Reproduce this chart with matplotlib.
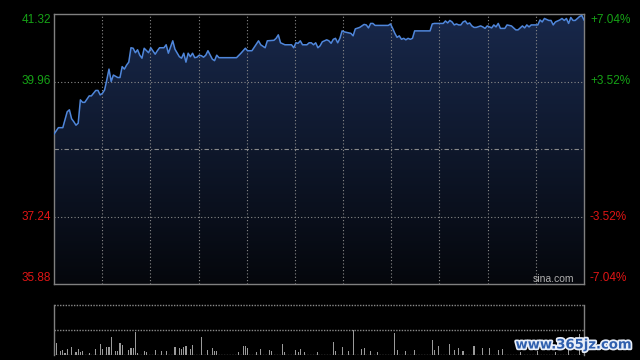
import matplotlib
matplotlib.use("Agg")

import numpy as np
import matplotlib.pyplot as plt
import matplotlib.patheffects as pe
from matplotlib.colors import LinearSegmentedColormap
from matplotlib.patches import PathPatch
from matplotlib.transforms import blended_transform_factory

# ---- data ---------------------------------------------------------------
PRICE_HI, PRICE_MID, PRICE_LO = 41.32, 38.60, 35.88
LEFT_TICKS = [41.32, 39.96, 37.24, 35.88]
RIGHT_LABELS = ["+7.04%", "+3.52%", "-3.52%", "-7.04%"]

minutes = [0, 2, 4, 6, 7, 8, 9, 10, 11, 12, 13, 14, 16, 17, 19, 20, 21, 22, 23, 24,
           25, 26, 27, 29, 30, 31, 32, 33, 34, 35, 36, 37, 38, 39, 40, 41, 43, 44, 46, 47,
           48, 50, 51, 52, 54, 55, 57, 58, 59, 60, 61, 62, 63, 64, 65, 66, 67, 68, 69, 70,
           72, 73, 74, 75, 83, 85, 87, 88, 90, 93, 94, 96, 97, 100, 101, 102, 103, 105, 108, 109,
           110, 111, 112, 113, 115, 116, 117, 118, 119, 120, 121, 122, 124, 125, 126, 127, 128, 129, 130, 131,
           132, 135, 136, 137, 139, 141, 142, 143, 144, 145, 146, 152, 153, 154, 155, 156, 157, 158, 159, 160,
           161, 162, 163, 164, 171, 172, 173, 174, 177, 178, 179, 180, 181, 182, 183, 184, 185, 186, 187, 188,
           189, 190, 191, 192, 194, 195, 196, 197, 199, 200, 201, 202, 203, 205, 206, 208, 210, 211, 213, 214,
           215, 216, 217, 218, 220, 221, 222, 223, 225, 226, 227, 228, 230, 231, 232, 233, 234, 235, 236, 237,
           238, 239, 240, 241]
prices = [38.90, 39.03, 39.03, 39.35, 39.39, 39.21, 39.15, 39.08, 39.12, 39.59, 39.54, 39.54, 39.67, 39.67, 39.78, 39.78, 39.69, 39.72, 39.79, 39.99,
          40.21, 39.96, 40.09, 40.04, 40.04, 40.26, 40.21, 40.29, 40.35, 40.64, 40.63, 40.54, 40.60, 40.49, 40.43, 40.63, 40.54, 40.64, 40.51, 40.58,
          40.64, 40.64, 40.70, 40.53, 40.78, 40.61, 40.46, 40.43, 40.53, 40.35, 40.53, 40.46, 40.53, 40.44, 40.45, 40.49, 40.48, 40.45, 40.49, 40.58,
          40.41, 40.38, 40.49, 40.44, 40.44, 40.53, 40.63, 40.58, 40.58, 40.78, 40.70, 40.64, 40.78, 40.79, 40.83, 40.90, 40.74, 40.70, 40.70, 40.64,
          40.74, 40.73, 40.78, 40.70, 40.70, 40.74, 40.74, 40.70, 40.74, 40.64, 40.68, 40.76, 40.80, 40.78, 40.73, 40.81, 40.83, 40.74, 40.83, 40.98,
          40.96, 40.93, 40.88, 41.02, 41.05, 41.11, 41.10, 41.04, 41.13, 41.13, 41.09, 41.09, 41.12, 41.03, 40.93, 40.85, 40.88, 40.81, 40.83, 40.80,
          40.83, 40.81, 40.83, 40.98, 40.98, 41.12, 41.13, 41.13, 41.13, 41.18, 41.14, 41.19, 41.16, 41.10, 41.12, 41.10, 41.10, 41.16, 41.18, 41.12,
          41.14, 41.08, 41.05, 41.05, 41.08, 41.06, 41.03, 41.08, 41.04, 41.10, 41.06, 41.13, 41.03, 41.03, 41.10, 41.08, 41.00, 41.00, 41.08, 41.04,
          41.10, 41.06, 41.10, 41.10, 41.10, 41.20, 41.16, 41.23, 41.19, 41.19, 41.10, 41.16, 41.20, 41.23, 41.19, 41.23, 41.13, 41.25, 41.19, 41.19,
          41.23, 41.27, 41.29, 41.20]

vol_minutes = [0, 1, 3, 4, 5, 6, 8, 10, 11, 12, 13, 16, 19, 21, 22, 24, 25, 26, 28, 29,
               30, 31, 34, 35, 36, 37, 38, 41, 42, 46, 49, 51, 55, 57, 58, 59, 60, 62, 63, 67,
               70, 72, 73, 74, 84, 86, 87, 88, 92, 94, 98, 99, 104, 105, 110, 111, 112, 114, 120, 127,
               128, 131, 134, 136, 140, 141, 144, 147, 155, 156, 160, 164, 172, 173, 175, 180, 182, 184, 186, 191,
               195, 198, 202, 204, 212, 220, 228, 234, 239]
volumes = [22, 12, 4, 5, 2, 6, 8, 3, 6, 3, 4, 2, 6, 11, 6, 8, 8, 18, 4, 4,
           12, 10, 5, 7, 7, 23, 2, 4, 3, 5, 4, 4, 8, 7, 6, 8, 9, 6, 10, 18,
           5, 7, 4, 4, 3, 9, 9, 7, 3, 6, 5, 4, 11, 3, 5, 3, 6, 3, 3, 13,
           4, 8, 4, 25, 6, 7, 4, 3, 22, 5, 4, 5, 15, 5, 9, 11, 5, 7, 4, 9,
           7, 7, 5, 6, 3, 4, 3, 5, 21]

# ---- styling ---------------------------------------------------------------
BG = "#000000"
GRID = "#8a8a8a"
SPINE = "#808080"
LINE = "#4f86da"
UP = "#16a316"
DOWN = "#e01515"
X_MAX = 241

fig = plt.figure(figsize=(6.4, 3.6), dpi=100, facecolor=BG)
ax = fig.add_axes([54 / 640, 1 - 284 / 360, 530 / 640, 270 / 360], facecolor=BG)
vax = fig.add_axes([54 / 640, 1 - 355 / 360, 530 / 640, 50 / 360], facecolor=BG)

# gradient fill under the price line, clipped to the area below it
fill = ax.fill_between(minutes, prices, PRICE_LO, color="none", linewidth=0)
cmap = LinearSegmentedColormap.from_list("navy", ["#05070c", "#18284b"])
grad = ax.imshow(np.linspace(0, 1, 256).reshape(-1, 1), cmap=cmap, aspect="auto",
                 origin="lower", extent=[0, X_MAX, PRICE_LO, PRICE_HI], zorder=1)
grad.set_clip_path(PathPatch(fill.get_paths()[0], transform=ax.transData))
ax.plot(minutes, prices, color=LINE, lw=1.1, zorder=4)

ax.set_xlim(0, X_MAX)
ax.set_ylim(PRICE_LO, PRICE_HI)
ax.set_xticks([])
ax.set_yticks([])
for s in ax.spines.values():
    s.set_color(SPINE)
    s.set_linewidth(1.0)

# grid: 11 columns, dotted; prev close dash-dot
for k in range(1, 11):
    ax.axvline(X_MAX * k / 11, color=GRID, lw=0.8, ls=(0, (1, 2)), zorder=2)
for lv in (39.96, 37.24):
    ax.axhline(lv, color=GRID, lw=0.8, ls=(0, (1, 2)), zorder=2)
ax.axhline(PRICE_MID, color=GRID, lw=0.8, ls=(0, (4, 2, 1, 2)), zorder=2)

# axis labels (left price, right percent)
trl = blended_transform_factory(fig.transFigure, ax.transData)
vas = ["top", "center", "center", "bottom"]
colors = [UP, UP, DOWN, DOWN]
for lv, txt, va, c in zip(LEFT_TICKS, RIGHT_LABELS, vas, colors):
    fig.text(51 / 640, lv, f"{lv:.2f}", transform=trl, ha="right", va=va,
             color=c, fontsize=8.5, family="Liberation Sans")
    fig.text(590 / 640, lv, txt, transform=trl, ha="left", va=va,
             color=c, fontsize=8.5, family="Liberation Sans")

ax.text(0.981, 0.018, "sina.com", transform=ax.transAxes, ha="right", va="center",
        color="#b0b0b0", fontsize=7.5, family="Liberation Sans", zorder=5)

# volume panel
vax.bar(vol_minutes, volumes, width=0.5, color="#9a9a9a", linewidth=0)
vax.set_xlim(0, X_MAX)
vax.set_ylim(0, 50)
vax.set_xticks([])
vax.set_yticks([])
for side in ("top", "bottom"):
    vax.spines[side].set_visible(False)
for side in ("left", "right"):
    vax.spines[side].set_color(SPINE)
    vax.spines[side].set_linewidth(1.0)
vax.axhline(50, color=GRID, lw=1.0, ls=(0, (1, 1)), clip_on=False)
vax.axhline(25, color=GRID, lw=1.0, ls=(0, (1, 1)))
vax.axhline(0.4, color=GRID, lw=1.0, ls=(0, (1, 1)))

# watermark
fig.text(574 / 640, 1 - 345 / 360, "www.365jz.com", ha="center", va="center",
         fontsize=9.5, fontweight="bold", color="#2f5fae", family="DejaVu Sans",
         path_effects=[pe.withStroke(linewidth=2.5, foreground="#e8eef8")])

fig.savefig("out.png", dpi=100, facecolor=BG)
